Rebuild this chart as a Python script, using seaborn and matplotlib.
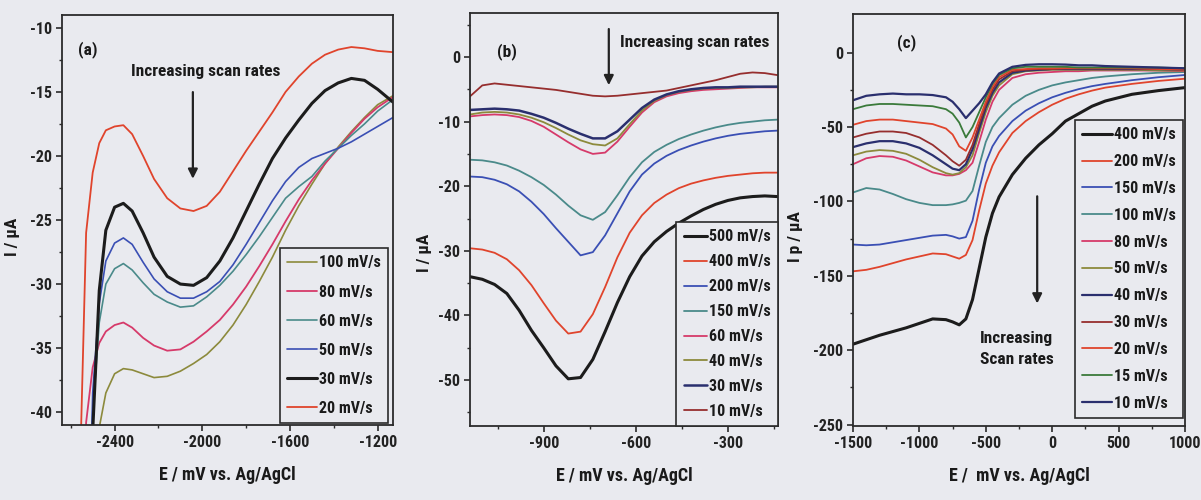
import numpy as np
import pandas as pd
import matplotlib
matplotlib.use("Agg")
import matplotlib.pyplot as plt
from matplotlib import font_manager
import seaborn as sns

# ---------------- data ----------------
# Panel (a)
a_x = [-2560, -2530, -2500, -2470, -2440, -2400, -2360, -2320, -2270, -2220, -2160, -2100,
       -2040, -1980, -1920, -1860, -1800, -1740, -1680, -1620, -1560, -1500, -1440, -1380,
       -1320, -1260, -1200, -1130]
a_100 = [-60, -60, -60, -41.2, -38.5, -37.0, -36.6, -36.7, -37.0, -37.3, -37.2, -36.8,
         -36.2, -35.5, -34.5, -33.2, -31.6, -29.8, -27.9, -25.8, -23.9, -22.2, -20.6, -19.3,
         -18.1, -17.0, -16.0, -15.3]
a_80 = [-60, -40.8, -36.5, -34.6, -33.7, -33.2, -33.0, -33.4, -34.2, -34.8, -35.2, -35.1,
        -34.5, -33.7, -32.8, -31.6, -30.2, -28.6, -26.9, -25.1, -23.4, -21.9, -20.6, -19.4,
        -18.2, -17.1, -16.2, -15.4]
a_60 = [-60, -60, -40.0, -33.0, -30.0, -28.8, -28.4, -28.9, -29.9, -30.8, -31.4, -31.8,
        -31.7, -31.0, -30.1, -29.0, -27.7, -26.3, -24.8, -23.3, -22.4, -21.6, -20.4, -19.4,
        -18.4, -17.5, -16.5, -15.6]
a_50 = [-60, -60, -38.5, -31.5, -28.2, -26.8, -26.4, -26.9, -28.3, -29.6, -30.6, -31.1,
        -31.1, -30.6, -29.8, -28.5, -26.9, -25.2, -23.5, -22.0, -20.9, -20.2, -19.8, -19.4,
        -18.9, -18.3, -17.7, -17.0]
a_30 = [-60, -60, -41.5, -30.5, -25.8, -24.0, -23.7, -24.3, -26.0, -27.9, -29.4, -30.0,
        -30.1, -29.5, -28.2, -26.4, -24.3, -22.2, -20.2, -18.6, -17.2, -15.9, -14.9, -14.3,
        -13.95, -14.1, -14.8, -15.8]
a_20 = [-46, -26.0, -21.3, -19.0, -18.0, -17.7, -17.6, -18.3, -20.0, -21.8, -23.3, -24.1,
        -24.3, -23.9, -22.8, -21.2, -19.6, -18.1, -16.6, -15.0, -13.8, -12.8, -12.1, -11.7,
        -11.5, -11.6, -11.8, -11.9]
a_labels = ["100 mV/s", "80 mV/s", "60 mV/s", "50 mV/s", "30 mV/s", "20 mV/s"]

# Panel (b)
b_x = [-1140, -1100, -1060, -1020, -980, -940, -900, -860, -820, -780, -740, -700, -660,
       -620, -580, -540, -500, -460, -420, -380, -340, -300, -260, -220, -180, -140]
b_500 = [-34.0, -34.4, -35.2, -36.6, -39.2, -42.3, -45.0, -47.8, -49.8, -49.6, -46.8, -42.5,
         -38.0, -34.0, -30.8, -28.6, -27.0, -25.7, -24.6, -23.6, -22.8, -22.2, -21.8, -21.6,
         -21.5, -21.6]
b_400 = [-29.6, -29.8, -30.3, -31.3, -33.0, -35.3, -38.1, -40.8, -42.8, -42.5, -39.8, -35.6,
         -31.0, -27.2, -24.5, -22.6, -21.3, -20.3, -19.6, -19.1, -18.7, -18.4, -18.2, -18.0,
         -17.9, -17.9]
b_200 = [-18.5, -18.6, -19.0, -19.7, -20.8, -22.4, -24.3, -26.5, -28.6, -30.7, -30.2, -27.6,
         -24.2, -20.8, -18.2, -16.5, -15.3, -14.4, -13.7, -13.1, -12.6, -12.2, -11.9, -11.7,
         -11.5, -11.4]
b_150 = [-15.9, -16.0, -16.3, -16.8, -17.6, -18.6, -19.8, -21.3, -23.0, -24.5, -25.2, -24.0,
         -21.4, -18.6, -16.3, -14.7, -13.6, -12.7, -12.0, -11.4, -10.9, -10.5, -10.2, -10.0,
         -9.8, -9.7]
b_60 = [-9.2, -9.0, -8.9, -9.0, -9.3, -9.9, -10.8, -12.0, -13.2, -14.3, -15.0, -14.8, -13.1,
        -10.8, -8.6, -7.0, -6.1, -5.6, -5.3, -5.1, -5.0, -4.9, -4.8, -4.7, -4.7, -4.7]
b_40 = [-8.9, -8.6, -8.5, -8.6, -8.9, -9.4, -10.1, -11.0, -12.0, -12.9, -13.5, -13.7, -12.6,
        -10.4, -8.3, -6.8, -5.9, -5.4, -5.1, -4.9, -4.8, -4.8, -4.7, -4.7, -4.6, -4.6]
b_30 = [-8.2, -8.1, -8.0, -8.1, -8.3, -8.8, -9.4, -10.2, -11.1, -11.9, -12.6, -12.6, -11.5,
        -9.7, -7.9, -6.6, -5.8, -5.3, -5.0, -4.8, -4.7, -4.7, -4.6, -4.6, -4.6, -4.6]
b_10 = [-6.1, -4.4, -4.1, -4.3, -4.5, -4.7, -4.9, -5.1, -5.4, -5.7, -6.0, -6.1, -6.0, -5.8,
        -5.6, -5.4, -5.2, -4.8, -4.4, -4.0, -3.6, -3.1, -2.6, -2.4, -2.5, -2.8]
b_labels = ["500 mV/s", "400 mV/s", "200 mV/s", "150 mV/s", "60 mV/s", "40 mV/s",
            "30 mV/s", "10 mV/s"]

# Panel (c)
c_x = [-1500, -1400, -1300, -1200, -1100, -1000, -900, -800, -750, -700, -650, -600, -550,
       -500, -450, -400, -300, -200, -100, 0, 100, 200, 300, 400, 600, 800, 1000]
c_400 = [-196, -193, -190, -187.5, -185, -182, -179, -179.5, -181, -183, -179, -166, -145,
         -124, -108, -97, -82, -71, -62, -54.5, -46, -41, -36, -32.5, -28, -25.5, -23.5]
c_200 = [-147, -146, -144, -141.5, -139, -137, -135, -135.5, -137, -138.5, -136, -126, -106,
         -88, -76, -67, -54, -46, -40, -35, -31, -28, -25.5, -23.5, -21, -19, -17.5]
c_150 = [-129, -129.5, -129, -127.5, -126, -124.5, -123, -122.5, -123.5, -125, -124, -113,
         -92, -74, -63, -56, -46, -39, -34, -30, -27, -24.5, -22.5, -21, -18.5, -16.5, -15]
c_100 = [-94, -91, -92, -95, -98.5, -101, -102.5, -102.5, -102, -101, -99.5, -93, -76, -60,
         -50, -44, -35, -29, -25, -22, -20, -18.5, -17, -16, -14.5, -13.5, -13]
c_80 = [-75, -71, -69.5, -70, -72.5, -76.5, -80.5, -82.5, -82.5, -81.5, -79, -74, -60, -45,
        -33, -25, -17, -14.5, -13.5, -13, -12.5, -12.5, -12, -12, -12, -12, -12.5]
c_50 = [-69, -66.5, -65.5, -66, -68, -72, -77, -81, -82, -81, -77, -69, -54, -40, -29, -22,
        -14.5, -12.5, -12, -11.5, -11.5, -11.5, -11.5, -11.5, -11.5, -12, -12]
c_40 = [-63.5, -61, -59.5, -59.5, -61, -64, -69, -75, -78, -79, -75, -65, -51, -37, -27, -20,
        -13.5, -12, -11.5, -11, -11, -11, -11, -11, -11, -11, -11.5]
c_30 = [-57, -54.5, -53, -53, -54, -57, -62, -69, -73, -76, -72, -62, -48, -35, -25, -18,
        -12.5, -11.5, -11, -11, -10.5, -10.5, -10.5, -10.5, -10.5, -11, -11]
c_20 = [-48.5, -46, -45, -45, -46, -47, -48, -51, -55, -63, -66, -57, -45, -33, -23, -16.5,
        -11.5, -11, -10.5, -10.5, -10.5, -10.5, -10.5, -10.5, -10.5, -11, -11.5]
c_15 = [-38, -35.5, -34.5, -34.5, -35, -35.5, -36, -38, -41, -47, -57, -50, -40, -30, -21,
        -15, -10.5, -9.5, -9.5, -9.5, -9.5, -10, -10, -10, -10, -10, -10.5]
c_10 = [-32, -29, -28, -27.5, -28, -28, -28.5, -30, -33, -38, -44, -39, -34, -28, -20, -14,
        -9.5, -8.2, -7.8, -7.8, -8, -8.5, -8.5, -9, -9.5, -10, -10.5]
c_labels = ["400 mV/s", "200 mV/s", "150 mV/s", "100 mV/s", "80 mV/s", "50 mV/s",
            "40 mV/s", "30 mV/s", "20 mV/s", "15 mV/s", "10 mV/s"]

# ---------------- style ----------------
BG = "#e9eaef"
INK = "#2b2b2b"
OLIVE = "#8c8a3c"
MAGENTA = "#d63a6a"
TEAL = "#4a8a8a"
BLUE = "#3a4fb4"
BLACK = "#1c1c1c"
RED = "#e0442c"
NAVY = "#2a2f6e"
DKRED = "#962e2e"
GREEN = "#3a7a3a"

sns.set_theme(style="ticks")
bold_fams = {f.name for f in font_manager.fontManager.ttflist
             if isinstance(f.weight, int) and f.weight >= 700
             or str(f.weight) in ("bold", "700", "heavy", "black")}
prefs = ["Liberation Sans Narrow", "Arial Narrow", "Roboto Condensed", "Asap Condensed",
         "Barlow Semi Condensed", "Barlow Condensed"]
chosen = [f for f in prefs if f in bold_fams][:1]
plt.rcParams["font.family"] = chosen + ["DejaVu Sans"]
plt.rcParams["font.weight"] = "bold"
plt.rcParams["axes.labelweight"] = "bold"
plt.rcParams["axes.unicode_minus"] = False

fig = plt.figure(figsize=(12.01, 5.0), dpi=100, facecolor=BG)

axA = fig.add_axes([62 / 1201, 1 - 425 / 500, 331 / 1201, 410 / 500])
axB = fig.add_axes([470 / 1201, 1 - 426 / 500, 308 / 1201, 413 / 500])
axC = fig.add_axes([853 / 1201, 1 - 426 / 500, 332 / 1201, 412 / 500])

TF = 11.5
TXT = "#1a1a1a"


def style_axes(ax):
    ax.set_facecolor(BG)
    for s in ax.spines.values():
        s.set_color(INK)
        s.set_linewidth(1.3)
    ax.tick_params(axis="both", which="major", direction="out", length=4, width=1.2,
                   color=INK, labelsize=TF, labelcolor="#222222", pad=3)
    ax.tick_params(axis="both", which="minor", direction="out", length=2.5, width=1.0,
                   color=INK)
    for lab in ax.get_xticklabels() + ax.get_yticklabels():
        lab.set_fontweight("bold")


def draw(ax, x, ys, labels, colors, widths):
    for y, lab, c, w in zip(ys, labels, colors, widths):
        sns.lineplot(x=np.array(x), y=np.array(y), ax=ax, color=c, linewidth=w,
                     label=lab, sort=False, estimator=None)


def legend(ax, anchor, spacing, hl):
    leg = ax.legend(loc="lower right", bbox_to_anchor=anchor, frameon=True, fancybox=False,
                    edgecolor=INK, facecolor=BG, framealpha=1, borderaxespad=0,
                    prop={"size": 11.5, "weight": "bold"}, labelspacing=spacing,
                    handlelength=hl, handletextpad=0.1, borderpad=0.45)
    leg.get_frame().set_linewidth(1.2)
    for t in leg.get_texts():
        t.set_color(TXT)


# ----- panel (a)
draw(axA, a_x, [a_100, a_80, a_60, a_50, a_30, a_20], a_labels,
     [OLIVE, MAGENTA, TEAL, BLUE, BLACK, RED], [1.2, 1.3, 1.2, 1.2, 2.2, 1.3])
axA.set_xlim(-2640, -1130)
axA.set_ylim(-41, -9)
axA.set_xticks([-2400, -2000, -1600, -1200])
axA.set_xticks([-2600, -2200, -1800, -1400], minor=True)
axA.set_yticks([-10, -15, -20, -25, -30, -35, -40])
axA.set_yticks(np.arange(-37.5, -9, 5), minor=True)
style_axes(axA)
legend(axA, (0.985, 0.005), 0.88, 1.9)
axA.text(-2523, -11.7, "(a)", fontsize=12.5, fontweight="bold", ha="center", va="center",
         color=TXT)
axA.text(-1985, -13.4, "Increasing scan rates", fontsize=12.5, fontweight="bold",
         ha="center", va="center", color=TXT)
axA.annotate("", xy=(-2043, -22.0), xytext=(-2043, -14.8),
             arrowprops=dict(arrowstyle="-|>", color="#222222", lw=1.6, mutation_scale=14))
axA.set_xlabel("E / mV vs. Ag/AgCl", fontsize=13, fontweight="bold", color=TXT)
axA.set_ylabel("I / μA", fontsize=12.5, fontweight="bold", color=TXT)
axA.xaxis.set_label_coords(0.50, -0.10)
axA.yaxis.set_label_coords(-0.127, 0.46)

# ----- panel (b)
draw(axB, b_x, [b_500, b_400, b_200, b_150, b_60, b_40, b_30, b_10], b_labels,
     [BLACK, RED, BLUE, TEAL, MAGENTA, OLIVE, NAVY, DKRED],
     [2.2, 1.3, 1.3, 1.3, 1.3, 1.3, 1.8, 1.3])
axB.set_xlim(-1140, -137)
axB.set_ylim(-57.1, 6.8)
axB.set_xticks([-900, -600, -300])
axB.set_xticks([-1050, -750, -450, -150], minor=True)
axB.set_yticks([0, -10, -20, -30, -40, -50])
axB.set_yticks([5, -5, -15, -25, -35, -45, -55], minor=True)
style_axes(axB)
legend(axB, (1.0, 0.0), 0.62, 1.5)
axB.text(-1021, 0.9, "(b)", fontsize=12.5, fontweight="bold", ha="center", va="center",
         color=TXT)
axB.text(-653, 2.2, "Increasing scan rates", fontsize=12.5, fontweight="bold",
         ha="left", va="center", color=TXT)
axB.annotate("", xy=(-688, -4.8), xytext=(-688, 4.75),
             arrowprops=dict(arrowstyle="-|>", color="#222222", lw=1.6, mutation_scale=14))
axB.set_xlabel("E / mV vs. Ag/AgCl", fontsize=13, fontweight="bold", color=TXT)
axB.set_ylabel("I / μA", fontsize=12.5, fontweight="bold", color=TXT)
axB.xaxis.set_label_coords(0.50, -0.10)
axB.yaxis.set_label_coords(-0.123, 0.42)

# ----- panel (c)
draw(axC, c_x, [c_400, c_200, c_150, c_100, c_80, c_50, c_40, c_30, c_20, c_15, c_10],
     c_labels,
     [BLACK, RED, BLUE, TEAL, MAGENTA, OLIVE, NAVY, DKRED, RED, GREEN, NAVY],
     [2.2, 1.3, 1.3, 1.3, 1.3, 1.3, 1.6, 1.3, 1.3, 1.3, 1.6])
axC.set_xlim(-1500, 1000)
axC.set_ylim(-251, 26)
axC.set_xticks([-1500, -1000, -500, 0, 500, 1000])
axC.set_xticks([-1250, -750, -250, 250, 750], minor=True)
axC.set_yticks([0, -50, -100, -150, -200, -250])
axC.set_yticks([-25, -75, -125, -175, -225], minor=True)
style_axes(axC)
legend(axC, (0.994, 0.02), 0.74, 1.9)
axC.text(-1098, 6.7, "(c)", fontsize=12.5, fontweight="bold", ha="center", va="center",
         color=TXT)
axC.text(-269, -199.4, "Increasing\nScan rates", fontsize=12.5, fontweight="bold",
         ha="center", va="center", color=TXT, linespacing=1.5)
axC.annotate("", xy=(-113, -170.5), xytext=(-113, -94.7),
             arrowprops=dict(arrowstyle="-|>", color="#222222", lw=1.6, mutation_scale=14))
axC.set_xlabel("E /  mV vs. Ag/AgCl", fontsize=13, fontweight="bold", color=TXT)
axC.set_ylabel("I p / μA", fontsize=12.5, fontweight="bold", color=TXT)
axC.xaxis.set_label_coords(0.50, -0.10)
axC.yaxis.set_label_coords(-0.15, 0.46)

fig.savefig("out.png", dpi=100, facecolor=BG)
